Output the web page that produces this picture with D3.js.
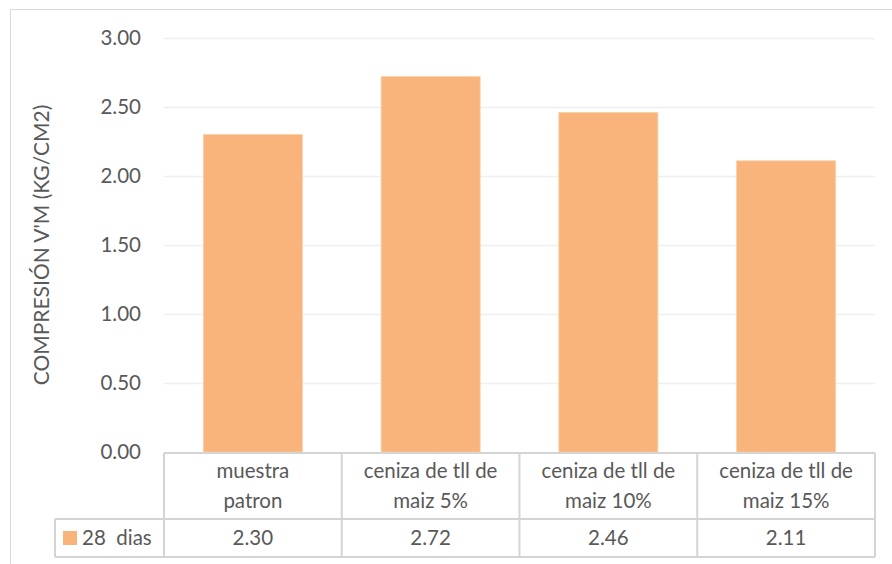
<!DOCTYPE html>
<html>
<head>
<meta charset="utf-8">
<script src="https://cdn.jsdelivr.net/npm/d3@7"></script>
<style>
  body { margin: 0; background: #fff; }
  text { font-family: Lato, "Open Sans", sans-serif; fill: #595959; }
</style>
</head>
<body>
<div id="chart"></div>
<script>
// data
const categories = [["muestra", "patron"], ["ceniza de tll de", "maiz 5%"], ["ceniza de tll de", "maiz 10%"], ["ceniza de tll de", "maiz 15%"]];
const values = [2.30, 2.72, 2.46, 2.11];
const yTicks = [0, 0.5, 1, 1.5, 2, 2.5, 3];
const seriesName = "28  dias";
const yTitle = "COMPRESIÓN V'M (KG/CM2)";

const W = 892, H = 564;
const margin = {top: 38, left: 164, right: 17, bottom: 112};
const width = W - margin.left - margin.right;
const height = H - margin.top - margin.bottom;
const fs = "20.5px";

const svg = d3.select("#chart").append("svg")
    .attr("width", W)
    .attr("height", H);

// outer frame
svg.append("rect")
    .attr("x", 10.5).attr("y", 9.5)
    .attr("width", W + 10).attr("height", H + 10)
    .attr("fill", "none")
    .attr("stroke", "#d9d9d9");

const g = svg.append("g")
    .attr("transform", `translate(${margin.left},${margin.top})`);

const x = d3.scaleBand().domain(d3.range(categories.length)).range([0, width]).paddingInner(0.443).paddingOuter(0.2215);
const xCat = d3.scaleBand().domain(d3.range(categories.length)).range([0, width]);
const y = d3.scaleLinear().domain([0, 3]).range([height, 0]);

// gridlines
g.selectAll(".grid")
    .data(yTicks.filter(d => d > 0))
    .enter().append("line")
    .attr("x1", 0).attr("x2", width)
    .attr("y1", d => Math.round(y(d)) + 0.5).attr("y2", d => Math.round(y(d)) + 0.5)
    .attr("stroke", "#efefef")
    .attr("stroke-width", 1.5);

// y tick labels
g.selectAll(".ylab")
    .data(yTicks)
    .enter().append("text")
    .attr("x", -23)
    .attr("y", d => y(d))
    .attr("dy", "0.36em")
    .attr("text-anchor", "end")
    .attr("font-size", fs)
    .text(d => d.toFixed(2));

// y title
svg.append("text")
    .attr("transform", `translate(42,${245}) rotate(-90)`)
    .attr("dy", "0.35em")
    .attr("text-anchor", "middle")
    .attr("font-size", "21px")
    .text(yTitle);

// bars
g.selectAll(".bar")
    .data(values)
    .enter().append("rect")
    .attr("x", (d, i) => x(i))
    .attr("width", x.bandwidth())
    .attr("y", d => y(d))
    .attr("height", d => height - y(d))
    .attr("fill", "#f8b47b")
    .attr("stroke", "#fbcfa6")
    .attr("stroke-width", 0.8);

// data table
const row1 = height + 1, row2 = height + 67, row3 = height + 105;
const tbl = g.append("g").attr("stroke", "#d4d4d4").attr("stroke-width", 2).attr("fill", "none");
tbl.append("line").attr("x1", 0).attr("x2", width).attr("y1", row1).attr("y2", row1);
tbl.append("line").attr("x1", -109).attr("x2", width).attr("y1", row2).attr("y2", row2);
tbl.append("line").attr("x1", -109).attr("x2", width).attr("y1", row3).attr("y2", row3);
tbl.append("line").attr("x1", -109).attr("x2", -109).attr("y1", row2).attr("y2", row3);
tbl.selectAll(".vline")
    .data(d3.range(categories.length + 1))
    .enter().append("line")
    .attr("x1", i => i < categories.length ? xCat(i) : width)
    .attr("x2", i => i < categories.length ? xCat(i) : width)
    .attr("y1", row1).attr("y2", row3);

// category labels
categories.forEach((lines, i) => {
    const t = g.append("text")
        .attr("text-anchor", "middle")
        .attr("font-size", fs);
    lines.forEach((ln, k) => {
        t.append("tspan")
            .attr("x", xCat(i) + xCat.bandwidth() / 2)
            .attr("y", row1 + 25 + k * 30)
            .text(ln);
    });
});

// values row
g.selectAll(".val")
    .data(values)
    .enter().append("text")
    .attr("x", (d, i) => xCat(i) + xCat.bandwidth() / 2)
    .attr("y", row2 + 26)
    .attr("text-anchor", "middle")
    .attr("font-size", fs)
    .text(d => d.toFixed(2));

// legend key
g.append("rect")
    .attr("x", -101).attr("y", row2 + 12)
    .attr("width", 14).attr("height", 14)
    .attr("fill", "#f8b47b");
g.append("text")
    .attr("x", -82)
    .attr("y", row2 + 26)
    .attr("font-size", fs)
    .attr("xml:space", "preserve")
    .style("white-space", "pre")
    .text(seriesName);
</script>
</body>
</html>
